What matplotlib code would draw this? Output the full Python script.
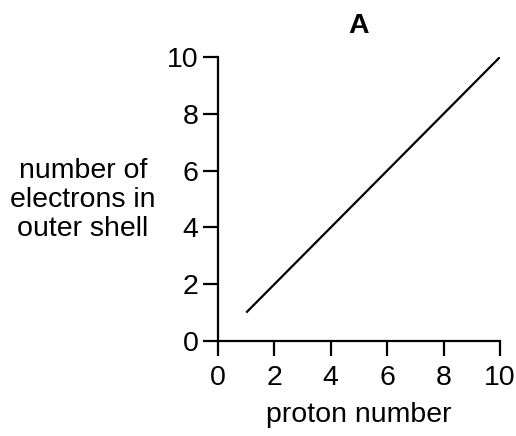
import matplotlib
matplotlib.use("Agg")
import matplotlib.pyplot as plt

plt.rcParams['font.family'] = ['Liberation Sans', 'DejaVu Sans']

# data: line of electrons in outer shell against proton number
proton = [1, 10]
electrons = [1, 10]
ticks = [0, 2, 4, 6, 8, 10]

FS = 20.5

fig = plt.figure(figsize=(5.16, 4.36), dpi=100)
ax = fig.add_axes([218 / 516, 1 - 341 / 436, 282 / 516, 284 / 436])

ax.plot(proton, electrons, color='black', linewidth=1.6, solid_capstyle='butt')

ax.set_xlim(0, 10)
ax.set_ylim(0, 10)
ax.set_xticks(ticks)
ax.set_yticks(ticks)
for side in ['top', 'right']:
    ax.spines[side].set_visible(False)
for side in ['left', 'bottom']:
    ax.spines[side].set_linewidth(1.6)
ax.tick_params(axis='both', direction='out', length=11, width=1.6, labelsize=FS)
ax.tick_params(axis='x', pad=6)
ax.tick_params(axis='y', pad=3)

ax.set_xlabel('proton number', fontsize=FS, labelpad=8)
ax.set_title('A', fontsize=FS, fontweight='bold', pad=17)

fig.text(83 / 516, 1 - 200 / 436, 'number of\nelectrons in\nouter shell',
         fontsize=FS, ha='center', va='center', multialignment='center',
         linespacing=1.15)

fig.savefig('out.png', dpi=100)
